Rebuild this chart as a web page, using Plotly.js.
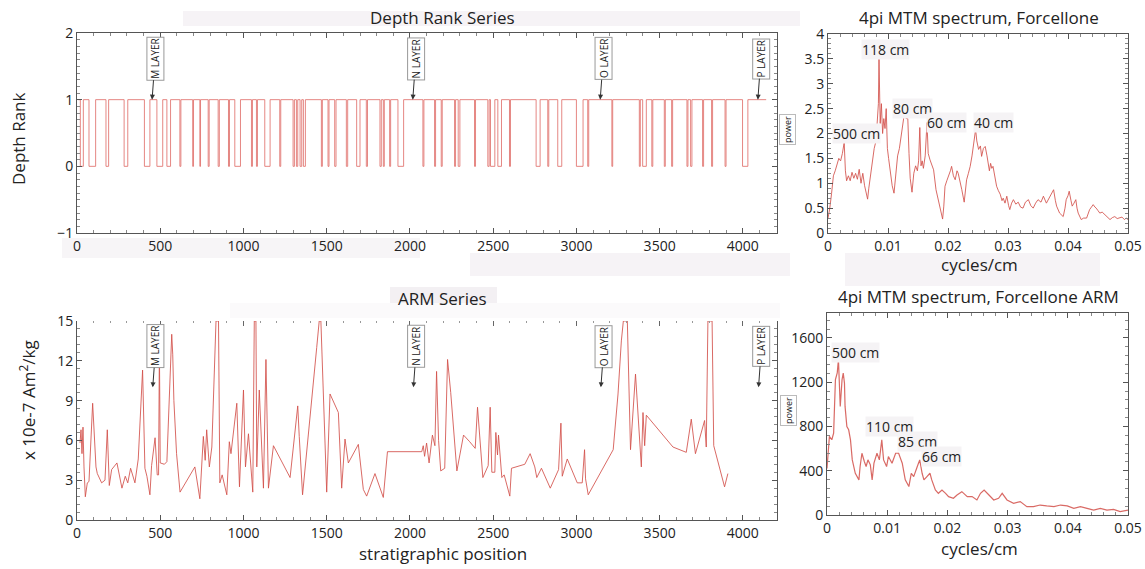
<!DOCTYPE html>
<html><head><meta charset="utf-8">
<script src="https://cdn.plot.ly/plotly-3.0.1.min.js"></script>
<style>html,body{margin:0;padding:0;background:#fff}#chart{width:1145px;height:569px}</style>
</head><body><div id="chart"></div>
<script>
// ---------- DATA ----------
const depthExtent = [5, 4140];
const depthZeroStart = [20,72,174,283,405,480,540,618,695,738,788,848,910,948,1048,1078,1128,1218,1298,1318,1340,1360,1468,1508,1548,1618,1680,1738,1820,1840,1878,1928,2078,2148,2188,2268,2290,2388,2468,2484,2528,2598,2758,2828,2888,3000,3068,3213,3378,3398,3453,3528,3572,3664,3686,3758,3812,3893,3998];
const depthZeroEnd   = [38,112,190,305,438,515,562,624,700,742,794,855,916,982,1054,1084,1160,1224,1306,1326,1350,1372,1474,1514,1556,1626,1700,1745,1828,1846,1884,1962,2084,2154,2194,2274,2300,2394,2476,2510,2550,2604,2782,2834,2912,3040,3074,3218,3384,3420,3459,3534,3578,3670,3694,3764,3818,3899,4030];

const armPos = [18,24,30,36,42,50,62,72,94,108,114,122,148,168,182,194,208,240,270,290,305,322,348,368,394,408,420,438,448,469,476,482,490,495,500,525,540,569,575,582,598,619,708,738,759,770,779,795,810,835,850,858,872,900,915,925,960,976,1000,1012,1030,1056,1065,1075,1080,1095,1120,1135,1150,1180,1280,1326,1335,1355,1440,1455,1465,1500,1520,1570,1590,1610,1630,1690,1720,1740,1790,1840,1865,2071,2080,2088,2100,2115,2135,2150,2160,2172,2185,2209,2226,2245,2282,2322,2359,2392,2406,2438,2470,2482,2492,2510,2516,2526,2532,2552,2566,2600,2610,2690,2722,2750,2762,2790,2843,2893,2907,2915,2945,3005,3035,3049,3055,3071,3221,3250,3270,3282,3306,3325,3355,3390,3400,3410,3420,3580,3660,3690,3715,3770,3780,3790,3815,3825,3890,3910];
const armVal = [5.8,6.8,5.0,7.0,4.0,1.75,2.8,2.9,8.8,5.3,4.0,3.5,2.8,3.0,6.8,2.6,3.8,4.3,2.4,3.3,2.8,3.9,2.8,4.6,11.3,3.9,3.3,1.9,4.1,6.2,4.6,3.4,3.4,13,4.3,4.2,4.4,14.0,12.5,9.0,5.0,2.1,4.0,1.6,6.3,4.5,6.8,4.0,5.5,15,15,2.8,3.4,1.9,5.9,5.0,8.8,2.5,9.8,4.0,6.5,2.1,15,15,4.0,9.8,2.4,12.1,2.4,5.6,3.2,8.6,6.3,1.9,13,15,15,2.1,9.5,8.1,2.4,6.1,4.3,5.7,2.3,1.8,3.5,1.7,5.15,5.15,5.6,4.8,5.8,4.3,6.4,5.6,11.2,6.0,3.7,3.9,12.1,9.6,3.7,6.4,5.9,5.4,8.5,3.2,4.1,8.5,3.6,3.6,6.6,4.9,6.4,3.2,3.4,1.8,3.9,4.2,5.0,4.0,3.2,3.9,2.4,3.8,7.3,3.3,4.6,2.8,2.8,5.3,3.1,1.9,5.3,9.5,13.5,15,15,5.3,11,4.0,8.1,5.6,7.9,5.5,5.1,7.6,5.0,7.5,5.5,15,15,5.6,2.5,3.5];

const specFreq = [0.0000,0.0003,0.0006,0.0009,0.0012,0.0015,0.0018,0.0021,0.0024,0.0027,0.0029,0.0031,0.0034,0.0037,0.0040,0.0043,0.0046,0.0049,0.0052,0.0055,0.0058,0.0061,0.0064,0.0066,0.0068,0.0071,0.0074,0.0077,0.0080,0.0082,0.0084,0.0085,0.0087,0.0089,0.0091,0.0093,0.0095,0.0097,0.0099,0.0101,0.0104,0.0107,0.0110,0.0113,0.0116,0.0119,0.0122,0.0125,0.0127,0.0130,0.0133,0.0135,0.0137,0.0140,0.0143,0.0146,0.0149,0.0151,0.0153,0.0155,0.0157,0.0159,0.0162,0.0165,0.0167,0.0170,0.0173,0.0176,0.0180,0.0183,0.0186,0.0189,0.0191,0.0193,0.0195,0.0198,0.0201,0.0204,0.0206,0.0209,0.0212,0.0215,0.0217,0.0220,0.0223,0.0227,0.0231,0.0234,0.0237,0.0240,0.0242,0.0244,0.0246,0.0248,0.0251,0.0254,0.0256,0.0259,0.0262,0.0265,0.0267,0.0269,0.0271,0.0273,0.0275,0.0278,0.0281,0.0284,0.0287,0.0290,0.0292,0.0295,0.0298,0.0301,0.0303,0.0306,0.0309,0.0313,0.0317,0.0321,0.0325,0.0329,0.0334,0.0338,0.0342,0.0346,0.0350,0.0355,0.0359,0.0364,0.0368,0.0372,0.0376,0.0379,0.0381,0.0386,0.0392,0.0395,0.0397,0.0400,0.0402,0.0405,0.0407,0.0410,0.0413,0.0415,0.0417,0.0422,0.0426,0.0431,0.0434,0.0436,0.0439,0.0442,0.0445,0.0447,0.0450,0.0453,0.0457,0.0461,0.0465,0.0470,0.0474,0.0478,0.0482,0.0486,0.0490,0.0494,0.0497,0.0500];
const specPower = [0.30,0.50,0.80,1.15,1.25,1.40,1.50,1.45,1.60,1.82,1.25,1.05,1.15,1.05,1.22,1.10,1.20,1.08,1.28,1.00,1.20,0.95,0.78,0.68,0.90,1.20,1.45,1.70,1.85,2.30,2.60,3.50,2.20,2.60,2.00,2.30,2.10,2.50,1.70,1.50,1.20,0.95,0.80,1.20,1.55,1.70,1.95,2.20,2.38,2.30,2.30,1.60,1.10,0.82,1.20,1.35,1.25,1.45,2.12,1.35,1.45,1.30,1.55,2.22,1.60,1.47,1.35,1.27,0.87,0.70,0.54,0.40,0.28,0.54,0.94,1.05,1.14,1.25,1.34,1.15,1.07,1.25,1.20,1.00,0.87,0.62,1.07,1.20,1.34,1.55,1.74,1.90,2.08,1.85,1.68,1.75,1.54,1.70,1.74,1.55,1.34,1.25,1.40,1.30,1.34,1.10,0.94,0.85,0.78,0.65,0.70,0.60,0.74,0.55,0.47,0.60,0.67,0.58,0.62,0.52,0.50,0.62,0.67,0.55,0.50,0.60,0.67,0.62,0.74,0.60,0.70,0.80,0.87,0.65,0.54,0.40,0.33,0.50,0.67,0.75,0.84,0.65,0.54,0.60,0.67,0.50,0.40,0.27,0.30,0.30,0.40,0.47,0.52,0.57,0.52,0.50,0.45,0.40,0.42,0.37,0.32,0.27,0.31,0.33,0.29,0.30,0.32,0.27,0.30,0.27];

const armSpecFreq = [0.0000,0.0004,0.0008,0.0011,0.0014,0.0017,0.0019,0.0022,0.0025,0.0027,0.0029,0.0030,0.0033,0.0036,0.0039,0.0042,0.0047,0.0053,0.0055,0.0058,0.0062,0.0065,0.0068,0.0072,0.0075,0.0078,0.0083,0.0087,0.0091,0.0094,0.0099,0.0102,0.0108,0.0114,0.0119,0.0125,0.0130,0.0136,0.0140,0.0144,0.0150,0.0154,0.0158,0.0161,0.0166,0.0171,0.0174,0.0180,0.0185,0.0191,0.0197,0.0202,0.0210,0.0216,0.0224,0.0233,0.0241,0.0249,0.0255,0.0261,0.0269,0.0277,0.0285,0.0291,0.0299,0.0310,0.0321,0.0332,0.0343,0.0354,0.0365,0.0377,0.0388,0.0399,0.0410,0.0421,0.0432,0.0443,0.0454,0.0465,0.0476,0.0487,0.0500];
const armSpecPower = [420,710,680,740,1223,1283,1404,981,1223,1283,1192,981,800,770,679,498,377,317,438,558,483,438,498,453,317,468,558,498,679,498,438,528,468,558,558,468,317,257,377,347,438,498,377,317,347,377,317,226,196,226,196,166,151,181,211,166,166,136,196,226,181,136,151,196,136,106,121,75,75,90,82,75,90,82,60,75,60,45,60,45,51,30,45];

const layerNames = ['M LAYER','N LAYER','O LAYER','P LAYER'];
const layerPos = [451, 2017, 3143, 4090];
const specPeakLabels = ['500 cm','118 cm','80 cm','60 cm','40 cm'];
const armPeakLabels = ['500 cm','110 cm','85 cm','66 cm'];

// ---------- BUILD ----------
const W = 1145, H = 569;
const px = v => v / W, py = v => 1 - v / H;

const dX = [depthExtent[0]], dY = [1];
for (let i = 0; i < depthZeroStart.length; i++) {
  dX.push(depthZeroStart[i], depthZeroStart[i], depthZeroEnd[i], depthZeroEnd[i]);
  dY.push(1, 0, 0, 1);
}
dX.push(depthExtent[1]); dY.push(1);

const red = 'rgba(210,80,74,0.85)';
const traces = [
  {x: dX, y: dY, xaxis: 'x', yaxis: 'y', mode: 'lines', line: {color: 'rgba(222,105,100,0.8)', width: 1}, hoverinfo: 'skip'},
  {x: armPos, y: armVal, xaxis: 'x2', yaxis: 'y2', mode: 'lines', line: {color: red, width: 1}, hoverinfo: 'skip'},
  {x: specFreq, y: specPower, xaxis: 'x3', yaxis: 'y3', mode: 'lines', line: {color: red, width: 1}, hoverinfo: 'skip'},
  {x: armSpecFreq, y: armSpecPower, xaxis: 'x4', yaxis: 'y4', mode: 'lines', line: {color: red, width: 1.2}, hoverinfo: 'skip'},
  {x: [0], y: [-10], xaxis: 'x5', yaxis: 'y2', mode: 'lines', hoverinfo: 'skip'}
];

const base = {
  showline: true, linecolor: '#555', linewidth: 1, ticks: 'inside', ticklen: 5, tickwidth: 1, tickcolor: '#555',
  tickfont: {size: 14, color: '#222'}, zeroline: false, showgrid: false, mirror: 'ticks',
  minor: {ticks: 'inside', ticklen: 3, tickcolor: '#888', showgrid: false}
};
const ax = (o, minorDtick) => Object.assign({}, base, o, {minor: Object.assign({}, base.minor, {dtick: minorDtick})});

const xL = [px(77), px(777)], xR = [px(828), px(1128)];

const layout = {
  width: W, height: H, margin: {l: 0, r: 0, t: 0, b: 0},
  paper_bgcolor: '#fff', plot_bgcolor: 'rgba(0,0,0,0)', showlegend: false,
  font: {family: 'Open Sans, Noto Sans, sans-serif', color: '#222'},
  xaxis: ax({domain: xL, range: [0, 4205], dtick: 500, anchor: 'y'}, 100),
  yaxis: ax({domain: [py(233), py(33)], range: [-1, 2], dtick: 1, anchor: 'x'}, 0.1),
  xaxis2: ax({domain: xL, range: [0, 4205], dtick: 500, anchor: 'y2', mirror: false}, 100),
  yaxis2: ax({domain: [py(520), py(321)], range: [0, 15], dtick: 3, anchor: 'x2'}, 0.6),
  xaxis3: ax({domain: xR, range: [0, 0.05], dtick: 0.01, anchor: 'y3'}, 0.002),
  yaxis3: ax({domain: [py(233), py(34)], range: [0, 4], dtick: 0.5, anchor: 'x3'}, 0.1),
  xaxis4: ax({domain: [px(827), px(1128)], range: [0, 0.05], dtick: 0.01, anchor: 'y4'}, 0.002),
  yaxis4: ax({domain: [py(515), py(313)], range: [0, 1825], dtick: 400, anchor: 'x4'}, 80),
  xaxis5: {overlaying: 'x2', anchor: 'y2', side: 'top', range: [0, 4205], dtick: 500, showline: false,
           ticks: 'inside', ticklen: 5, tickcolor: '#666', showticklabels: false, showgrid: false, zeroline: false,
           minor: {dtick: 100, ticks: 'inside', ticklen: 2, tickcolor: '#999', showgrid: false}},
  shapes: [
    [183, 11, 800, 26, '#f6f3f6'], [62, 238, 420, 258, '#f7f5f7'], [470, 253, 790, 276, '#f6f3f6'], [845, 253, 1100, 286, '#f6f3f6'],
    [390, 287, 497, 308, '#f3f0f3'], [230, 303, 780, 318, '#fbfafb']
  ].map(r => ({type: 'rect', xref: 'paper', yref: 'paper', x0: px(r[0]), x1: px(r[2]), y0: py(r[3]), y1: py(r[1]),
               fillcolor: r[4], line: {width: 0}, layer: 'below'})),
  annotations: []
};

const A = layout.annotations;
const txt = (t, x, y, size, extra) => A.push(Object.assign({text: t, xref: 'paper', yref: 'paper', x: px(x), y: py(y),
  xanchor: 'center', yanchor: 'middle', showarrow: false, font: {size: size, color: '#222'}}, extra || {}));

txt('Depth Rank Series', 442, 17, 17);
txt('4pi MTM spectrum, Forcellone', 979, 17, 17);
txt('ARM Series', 442, 298, 17);
txt('4pi MTM spectrum, Forcellone ARM', 978, 296, 17);
txt('stratigraphic position', 443, 553, 17);
txt('cycles/cm', 979, 264, 17);
txt('cycles/cm', 979, 548, 17);
txt('Depth Rank', 18, 139, 17, {textangle: -90});
txt('x 10e-7 Am<sup>2</sup>/kg', 27, 400, 17, {textangle: -90});
txt('power', 787, 130, 9, {textangle: -90, bgcolor: '#fff', bordercolor: '#bbb', borderwidth: 1, borderpad: 1});
txt('power', 788, 411, 9, {textangle: -90, bgcolor: '#fff', bordercolor: '#bbb', borderwidth: 1, borderpad: 1});

const layerStyle = {textangle: -90, showarrow: true, arrowhead: 2, arrowsize: 1, arrowwidth: 1, arrowcolor: '#333',
  ax: 3, ay: -41, bgcolor: '#fff', bordercolor: '#999', borderwidth: 1, borderpad: 1, font: {size: 10, color: '#222'}};
layerNames.forEach((n, i) => {
  A.push(Object.assign({text: n, xref: 'x', yref: 'y', x: layerPos[i], y: 1}, layerStyle));
  A.push(Object.assign({text: n, xref: 'x2', yref: 'y2', x: layerPos[i] + 4, y: 10}, layerStyle));
});

const peakStyle = {showarrow: false, bgcolor: '#f5f3f5', font: {size: 14, color: '#222'}, borderpad: 0};
const specPos = [[0.0047, 2.01], [0.0095, 3.68], [0.0140, 2.51], [0.0198, 2.23], [0.0275, 2.23]];
specPeakLabels.forEach((t, i) => A.push(Object.assign({text: t, xref: 'x3', yref: 'y3', x: specPos[i][0], y: specPos[i][1]}, peakStyle)));
const armPosLbl = [[0.0048, 1465], [0.0103, 796], [0.0150, 660], [0.0191, 533]];
armPeakLabels.forEach((t, i) => A.push(Object.assign({text: t, xref: 'x4', yref: 'y4', x: armPosLbl[i][0], y: armPosLbl[i][1]}, peakStyle)));

Plotly.newPlot('chart', traces, layout, {staticPlot: true, displayModeBar: false});
</script></body></html>
